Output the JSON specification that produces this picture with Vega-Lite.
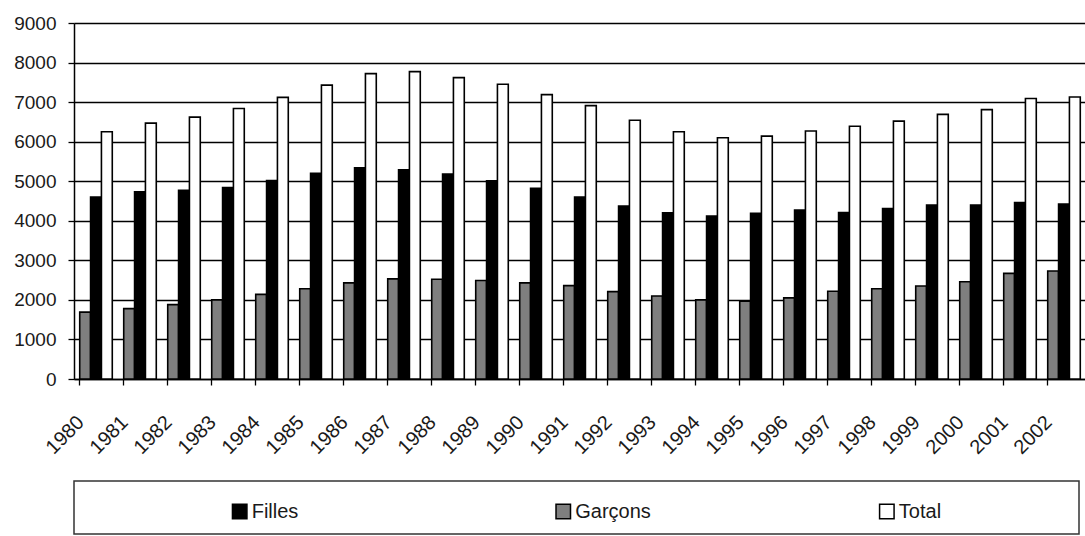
{
  "$schema": "https://vega.github.io/schema/vega-lite/v6.json",
  "background": "white",
  "padding": {"left": 13, "top": 14, "right": 0, "bottom": 0},
  "spacing": 22,
  "config": {
    "font": "Liberation Sans",
    "axis": {"titleFontSize": 0}
  },
  "datasets": {
    "effectifs": [
      {"annee": "1980", "Garçons": 1690, "Filles": 4600, "Total": 6250},
      {"annee": "1981", "Garçons": 1780, "Filles": 4730, "Total": 6470},
      {"annee": "1982", "Garçons": 1880, "Filles": 4770, "Total": 6620},
      {"annee": "1983", "Garçons": 2000, "Filles": 4840, "Total": 6840},
      {"annee": "1984", "Garçons": 2140, "Filles": 5020, "Total": 7120},
      {"annee": "1985", "Garçons": 2280, "Filles": 5200, "Total": 7430},
      {"annee": "1986", "Garçons": 2430, "Filles": 5340, "Total": 7720},
      {"annee": "1987", "Garçons": 2530, "Filles": 5290, "Total": 7770},
      {"annee": "1988", "Garçons": 2520, "Filles": 5180, "Total": 7620},
      {"annee": "1989", "Garçons": 2490, "Filles": 5010, "Total": 7450},
      {"annee": "1990", "Garçons": 2430, "Filles": 4820, "Total": 7190},
      {"annee": "1991", "Garçons": 2360, "Filles": 4600, "Total": 6910},
      {"annee": "1992", "Garçons": 2210, "Filles": 4370, "Total": 6540},
      {"annee": "1993", "Garçons": 2100, "Filles": 4200, "Total": 6250},
      {"annee": "1994", "Garçons": 2000, "Filles": 4120, "Total": 6100},
      {"annee": "1995", "Garçons": 1970, "Filles": 4190, "Total": 6140},
      {"annee": "1996", "Garçons": 2050, "Filles": 4270, "Total": 6270},
      {"annee": "1997", "Garçons": 2220, "Filles": 4210, "Total": 6390},
      {"annee": "1998", "Garçons": 2280, "Filles": 4310, "Total": 6520},
      {"annee": "1999", "Garçons": 2350, "Filles": 4400, "Total": 6690},
      {"annee": "2000", "Garçons": 2460, "Filles": 4400, "Total": 6810},
      {"annee": "2001", "Garçons": 2670, "Filles": 4460, "Total": 7090},
      {"annee": "2002", "Garçons": 2730, "Filles": 4420, "Total": 7130}
    ],
    "series": [
      {"serie": "Filles"},
      {"serie": "Garçons"},
      {"serie": "Total"}
    ]
  },
  "vconcat": [
    {
      "width": 1012,
      "height": 356,
      "view": {"stroke": null},
      "data": {"name": "effectifs"},
      "transform": [
        {"fold": ["Garçons", "Filles", "Total"], "as": ["serie", "effectif"]}
      ],
      "mark": {"type": "bar", "stroke": "black", "strokeWidth": 1.6},
      "encoding": {
        "x": {
          "field": "annee",
          "type": "ordinal",
          "title": null,
          "scale": {"paddingInner": 0.26, "paddingOuter": 0.13},
          "axis": {
            "bandPosition": 0,
            "labelAngle": -45,
            "labelAlign": "right",
            "labelBaseline": "middle",
            "labelOffset": -15,
            "labelPadding": 34,
            "labelFontSize": 20,
            "labelColor": "#1a1a1a",
            "tickColor": "black",
            "tickSize": 6,
            "tickWidth": 1.3,
            "domainColor": "black",
            "domainWidth": 1.5,
            "grid": false
          }
        },
        "xOffset": {
          "field": "serie",
          "type": "nominal",
          "scale": {"domain": ["Garçons", "Filles", "Total"], "paddingInner": 0, "paddingOuter": 0}
        },
        "y": {
          "field": "effectif",
          "type": "quantitative",
          "title": null,
          "scale": {"domain": [0, 9000], "nice": false},
          "axis": {
            "values": [0, 1000, 2000, 3000, 4000, 5000, 6000, 7000, 8000, 9000],
            "format": "d",
            "labelFontSize": 19,
            "labelColor": "#1a1a1a",
            "labelPadding": 12,
            "tickColor": "black",
            "tickSize": 6,
            "tickWidth": 1.3,
            "domainColor": "black",
            "domainWidth": 1.5,
            "grid": true,
            "gridColor": "black",
            "gridWidth": 1.3
          }
        },
        "color": {
          "field": "serie",
          "type": "nominal",
          "scale": {"domain": ["Filles", "Garçons", "Total"], "range": ["#000000", "#7f7f7f", "#ffffff"]},
          "legend": null
        }
      }
    },
    {
      "width": 1005,
      "height": 53,
      "view": {"stroke": "#333333", "strokeWidth": 1.5},
      "data": {"name": "series"},
      "encoding": {
        "x": {
          "field": "serie",
          "type": "nominal",
          "sort": null,
          "scale": {"type": "point", "padding": 0.553, "align": 0.463},
          "axis": null
        }
      },
      "layer": [
        {
          "mark": {"type": "point", "shape": "square", "size": 210, "filled": true, "stroke": "black", "strokeWidth": 1.5, "opacity": 1, "yOffset": 4},
          "encoding": {
            "color": {
              "field": "serie",
              "type": "nominal",
              "scale": {"domain": ["Filles", "Garçons", "Total"], "range": ["#000000", "#7f7f7f", "#ffffff"]},
              "legend": null
            }
          }
        },
        {
          "mark": {"type": "text", "align": "left", "baseline": "middle", "dx": 12, "yOffset": 4, "fontSize": 20, "color": "#1a1a1a"},
          "encoding": {"text": {"field": "serie"}}
        }
      ]
    }
  ]
}
